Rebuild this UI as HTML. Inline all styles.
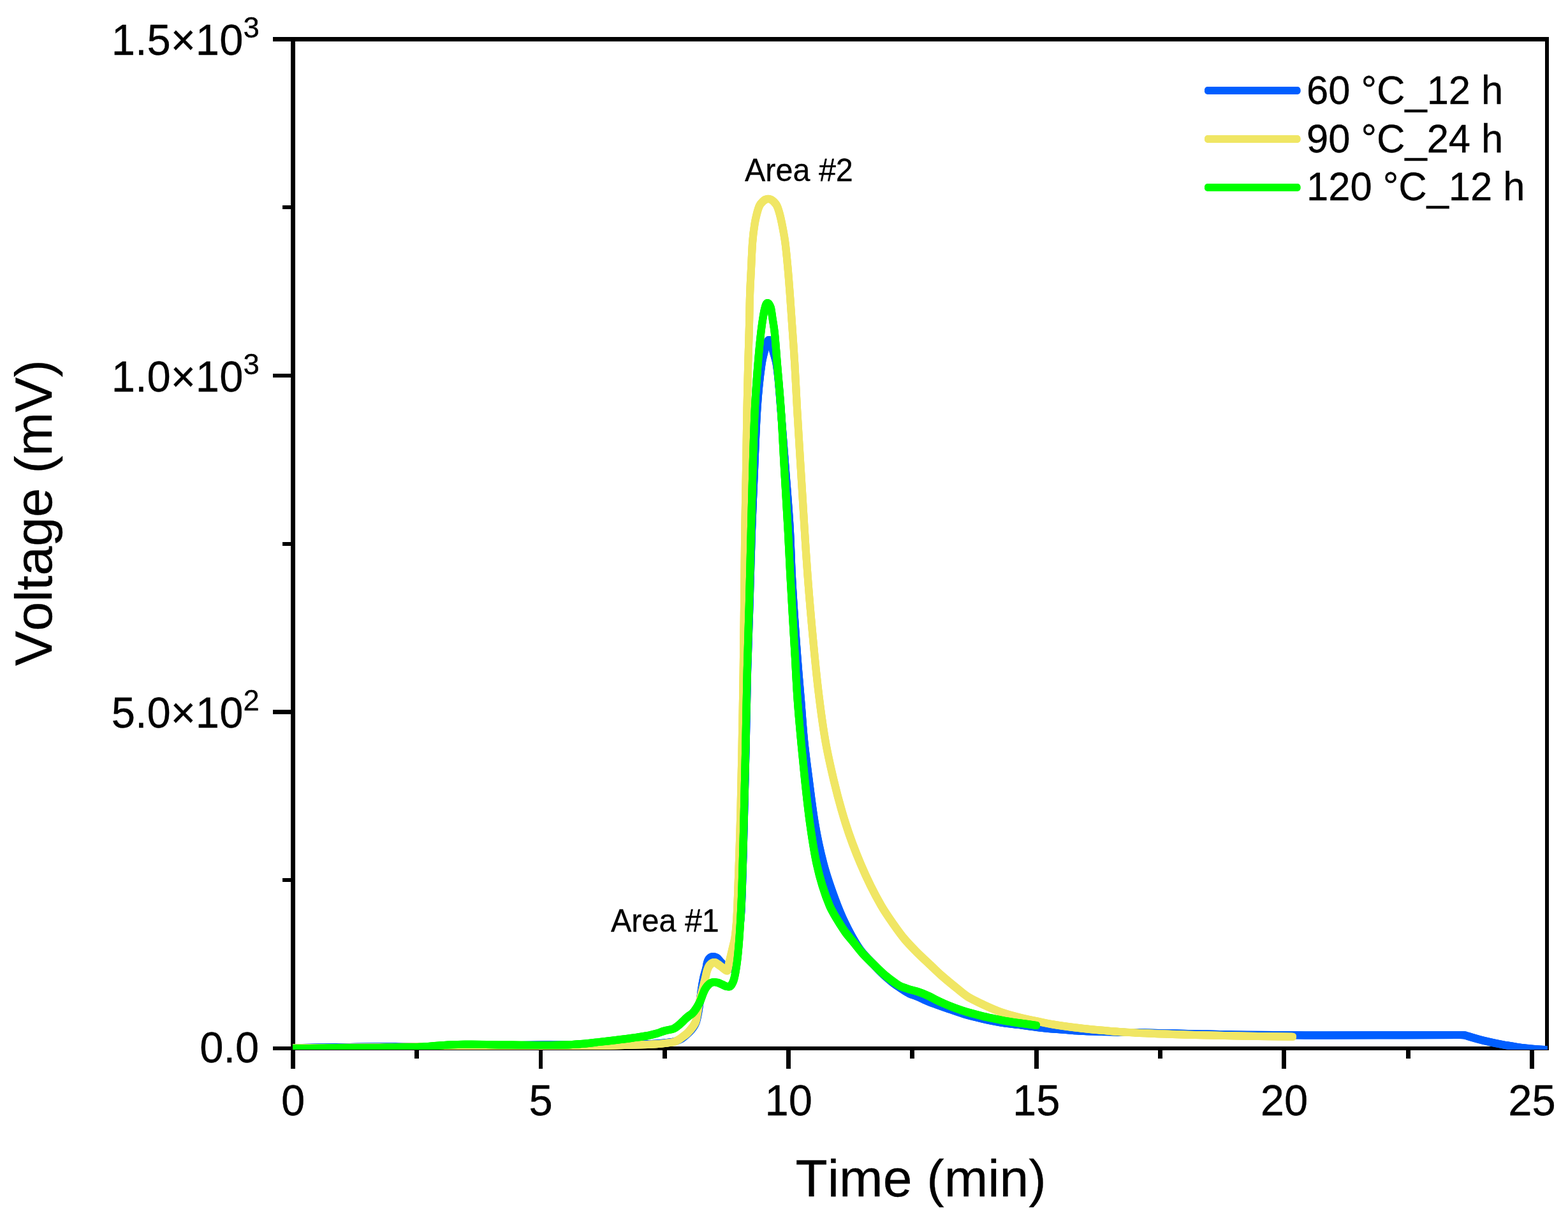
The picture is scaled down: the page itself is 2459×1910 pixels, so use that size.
<!DOCTYPE html>
<html lang="en"><head><meta charset="utf-8"><title>Chromatogram</title>
<style>
html,body{margin:0;padding:0;background:#fff;}
body{width:2459px;height:1910px;overflow:hidden;}
svg{display:block;font-family:'Liberation Sans', Arial, Helvetica, sans-serif;}
text{fill:#000;stroke:#000;stroke-width:0.3px;font-kerning:none;font-variant-ligatures:none;}
.tk{font-size:67px;}
.sup{font-size:45.5px;}
.ttl{font-size:82.3px;}
.lg{font-size:61.5px;}
.an{font-size:48.5px;}
</style></head><body>
<svg xmlns="http://www.w3.org/2000/svg" width="2459" height="1910" viewBox="0 0 2459 1910">
<rect width="2459" height="1910" fill="#fff"/>
<defs><clipPath id="plot"><rect x="459" y="62" width="1968" height="1584"/></clipPath>
<path id="cB" d="M459.5,1643.3C486.3,1642.8 513.2,1642.4 540.0,1642.0C566.7,1641.6 593.3,1641.0 620.0,1641.0C646.7,1641.0 673.3,1641.5 700.0,1641.5C726.7,1641.5 753.3,1640.5 780.0,1640.0C806.7,1639.5 833.3,1638.3 860.0,1638.3C890.0,1638.3 920.0,1638.5 950.0,1638.5C972.0,1638.5 994.0,1638.0 1016.0,1637.3C1024.5,1637.0 1033.0,1636.3 1041.4,1635.5C1046.3,1635.0 1051.3,1634.5 1056.0,1633.6C1059.6,1632.9 1063.3,1631.5 1066.5,1630.0C1070.3,1628.2 1073.7,1624.9 1077.0,1622.0C1079.5,1619.8 1081.9,1617.5 1084.0,1615.0C1085.6,1613.1 1087.3,1611.1 1088.5,1609.0C1089.8,1606.8 1091.0,1604.4 1091.8,1602.0C1093.0,1598.5 1093.8,1594.7 1094.5,1591.0C1095.5,1585.9 1096.3,1580.7 1097.0,1575.5C1098.0,1568.5 1098.7,1561.3 1099.7,1554.3C1100.7,1547.2 1101.9,1540.0 1103.4,1533.0C1104.5,1527.8 1106.5,1522.7 1107.6,1517.5C1108.1,1515.0 1108.3,1512.4 1109.0,1510.0C1109.7,1507.4 1111.2,1504.1 1113.0,1502.5C1114.2,1501.4 1116.5,1500.0 1118.3,1500.0C1120.0,1500.0 1122.0,1500.9 1123.5,1501.6C1126.1,1502.9 1128.0,1506.3 1130.2,1508.6C1132.3,1510.7 1134.3,1512.9 1136.4,1515.0C1137.6,1516.2 1138.7,1517.6 1140.0,1518.6C1140.8,1519.1 1141.7,1520.0 1142.5,1520.0C1144.5,1520.0 1146.9,1516.9 1148.0,1515.0C1150.6,1510.4 1151.8,1503.7 1153.0,1498.0C1155.0,1488.8 1156.2,1479.4 1157.6,1470.0C1159.2,1458.9 1161.1,1447.8 1161.9,1436.6C1163.0,1421.1 1163.5,1405.5 1164.0,1390.0C1165.4,1351.1 1166.2,1312.1 1167.2,1273.2C1168.1,1238.8 1168.9,1204.4 1169.7,1170.0C1170.6,1131.1 1171.1,1092.1 1172.1,1053.2C1173.0,1018.8 1174.4,984.4 1175.5,950.0C1176.7,911.1 1177.6,872.1 1179.0,833.2C1180.1,802.1 1181.5,771.1 1182.9,740.0C1184.3,707.2 1185.3,674.3 1187.4,641.5C1188.9,617.9 1191.1,594.1 1194.5,570.8C1195.5,563.8 1197.2,556.8 1199.0,550.0C1200.0,546.1 1201.4,542.3 1202.8,538.5C1203.3,537.2 1203.6,535.7 1204.3,534.6C1204.7,534.0 1205.4,533.0 1206.0,533.0C1206.6,533.0 1207.3,534.0 1207.7,534.6C1208.4,535.7 1208.8,537.2 1209.2,538.5C1210.4,542.3 1211.3,546.2 1212.3,550.0C1214.1,556.9 1216.6,563.8 1217.7,570.8C1221.3,594.0 1222.5,617.9 1224.5,641.5C1227.0,671.0 1229.2,700.5 1231.4,730.0C1234.0,764.4 1237.2,798.8 1239.0,833.2C1240.2,855.4 1240.7,877.7 1241.8,900.0C1244.0,943.4 1247.2,986.7 1250.4,1030.0C1252.0,1051.7 1254.0,1073.3 1255.8,1095.0C1257.6,1116.7 1258.9,1138.4 1261.0,1160.0C1263.1,1181.7 1266.1,1203.4 1268.9,1225.0C1271.7,1246.7 1274.2,1268.5 1277.8,1290.0C1281.4,1311.8 1286.0,1333.7 1291.6,1355.0C1297.3,1377.0 1305.2,1398.7 1313.3,1420.0C1315.8,1426.5 1318.5,1432.9 1321.3,1439.2C1324.0,1445.1 1326.9,1451.0 1329.9,1456.8C1333.1,1463.0 1336.4,1469.2 1340.0,1475.2C1343.1,1480.4 1346.3,1485.8 1350.0,1490.6C1355.6,1498.1 1362.5,1504.8 1369.0,1511.6C1375.0,1517.9 1381.0,1524.2 1387.4,1530.0C1391.5,1533.7 1395.7,1537.3 1400.0,1540.7C1403.7,1543.6 1407.6,1546.3 1411.5,1548.9C1416.5,1552.2 1421.4,1555.9 1426.8,1558.3C1430.5,1560.0 1434.5,1561.0 1438.3,1562.5C1444.5,1565.0 1450.4,1568.3 1456.6,1570.8C1465.9,1574.6 1475.4,1577.7 1484.9,1581.0C1494.3,1584.3 1503.7,1587.8 1513.2,1590.6C1522.5,1593.3 1532.0,1595.7 1541.5,1597.8C1550.9,1599.9 1560.3,1602.0 1569.8,1603.5C1579.2,1605.0 1588.7,1605.9 1598.1,1607.1C1607.5,1608.3 1616.9,1609.9 1626.4,1611.0C1635.8,1612.1 1645.3,1613.0 1654.7,1613.8C1664.1,1614.6 1673.6,1615.3 1683.0,1615.9C1688.7,1616.3 1694.3,1616.8 1700.0,1617.0C1723.8,1618.0 1747.7,1618.3 1771.6,1618.9C1802.1,1619.6 1832.7,1620.3 1863.2,1620.9C1893.7,1621.5 1924.2,1622.4 1954.7,1622.7C1985.2,1623.0 2015.8,1623.3 2046.3,1623.4C2057.5,1623.4 2068.8,1623.5 2080.0,1623.5C2120.0,1623.5 2160.0,1623.3 2200.0,1623.2C2230.0,1623.1 2260.0,1623.0 2290.0,1623.0C2292.0,1623.0 2294.0,1623.1 2296.0,1623.2C2297.8,1623.3 2299.5,1624.1 2301.2,1624.6C2304.0,1625.4 2306.7,1626.3 2309.5,1627.1C2315.0,1628.7 2320.5,1630.3 2326.0,1631.6C2336.9,1634.2 2347.9,1636.6 2359.0,1638.6C2369.9,1640.5 2381.0,1642.5 2392.0,1643.6C2403.6,1644.8 2415.3,1645.8 2427.0,1646.3"/>
<path id="cY" d="M459.5,1643.5C504.7,1643.2 549.8,1642.8 595.0,1642.3C616.3,1642.1 637.7,1641.5 659.0,1641.5C679.3,1641.5 699.7,1642.4 720.0,1642.5C760.0,1642.8 800.0,1643.0 840.0,1643.0C860.0,1643.0 880.0,1642.1 900.0,1641.5C914.9,1641.1 929.8,1640.5 944.7,1640.0C956.5,1639.6 968.2,1639.3 980.0,1639.0C992.1,1638.6 1004.1,1638.3 1016.2,1637.9C1020.8,1637.7 1025.4,1637.6 1030.0,1637.3C1033.9,1637.1 1037.9,1636.6 1041.8,1636.1C1046.7,1635.5 1051.9,1635.1 1056.5,1634.0C1059.6,1633.3 1062.6,1631.3 1065.4,1629.6C1067.4,1628.4 1069.1,1626.9 1071.0,1625.5C1073.1,1624.0 1075.3,1622.5 1077.2,1620.8C1079.3,1618.9 1081.2,1616.5 1083.1,1614.3C1084.6,1612.4 1086.2,1610.5 1087.5,1608.5C1088.8,1606.4 1090.3,1604.2 1091.1,1601.9C1092.2,1598.6 1092.7,1594.9 1093.4,1591.3C1094.3,1586.6 1094.8,1581.7 1095.7,1577.0C1096.2,1574.5 1096.7,1572.0 1097.3,1569.5C1098.6,1563.6 1100.2,1557.8 1101.6,1552.0C1103.2,1545.7 1104.8,1539.3 1106.3,1533.0C1107.2,1529.5 1107.7,1525.8 1108.8,1522.4C1109.8,1519.3 1111.1,1515.6 1113.0,1513.5C1114.7,1511.6 1118.1,1509.1 1120.7,1509.1C1122.3,1509.1 1124.0,1510.8 1125.5,1511.8C1127.1,1512.9 1128.6,1514.1 1130.2,1515.3C1132.0,1516.6 1133.7,1518.0 1135.5,1519.3C1136.5,1520.0 1137.4,1520.9 1138.4,1521.5C1139.0,1521.8 1140.0,1522.4 1140.3,1522.4C1141.1,1522.4 1141.4,1519.2 1141.8,1517.5C1142.5,1514.7 1143.0,1511.8 1143.6,1509.0C1144.4,1505.3 1145.3,1501.7 1146.2,1498.0C1147.3,1493.3 1148.4,1488.7 1149.5,1484.0C1150.6,1479.3 1152.0,1474.7 1152.6,1470.0C1154.1,1459.0 1155.0,1447.8 1155.6,1436.6C1156.5,1421.1 1156.9,1405.5 1157.5,1390.0C1158.9,1351.1 1160.4,1312.1 1161.4,1273.2C1162.3,1238.8 1162.9,1204.4 1163.6,1170.0C1164.4,1131.1 1165.1,1092.1 1165.7,1053.2C1166.2,1018.8 1166.6,984.4 1167.0,950.0C1167.4,911.1 1167.7,872.1 1168.2,833.2C1168.7,798.8 1169.5,764.4 1170.1,730.0C1170.6,700.5 1170.9,671.0 1171.5,641.5C1172.0,617.9 1172.6,594.4 1173.2,570.8C1173.7,550.5 1174.5,530.3 1175.0,510.0C1175.4,494.7 1175.5,479.3 1176.0,464.0C1176.4,449.8 1177.3,435.7 1178.0,421.5C1178.7,407.3 1179.1,393.1 1180.2,379.0C1180.9,369.5 1182.1,360.1 1183.6,350.7C1184.4,346.0 1185.4,341.2 1186.6,336.6C1187.8,331.8 1189.0,326.7 1191.1,322.5C1192.2,320.3 1194.0,318.2 1195.7,316.5C1197.0,315.2 1198.5,313.7 1200.2,313.0C1201.6,312.4 1203.2,311.8 1204.7,311.8C1206.2,311.8 1207.8,312.4 1209.2,313.0C1210.9,313.7 1212.4,315.2 1213.7,316.5C1215.4,318.2 1217.2,320.3 1218.3,322.5C1220.4,326.7 1221.7,331.8 1223.0,336.6C1224.3,341.2 1225.2,346.0 1226.2,350.7C1228.1,360.1 1229.9,369.5 1231.2,379.0C1233.1,393.1 1234.3,407.3 1235.6,421.5C1236.9,435.7 1237.9,449.8 1239.0,464.0C1240.1,479.3 1241.1,494.7 1242.2,510.0C1243.6,530.3 1245.1,550.5 1246.3,570.8C1247.7,594.4 1248.8,617.9 1250.1,641.5C1251.8,671.0 1253.7,700.5 1255.5,730.0C1257.6,764.4 1259.7,798.8 1261.9,833.2C1263.3,855.5 1264.7,877.7 1266.4,900.0C1269.6,943.4 1273.5,986.7 1277.7,1030.0C1279.8,1051.7 1282.1,1073.4 1284.8,1095.0C1287.5,1116.7 1290.4,1138.5 1294.1,1160.0C1297.8,1181.8 1302.8,1203.5 1307.9,1225.0C1313.1,1246.8 1319.0,1268.6 1325.7,1290.0C1332.6,1312.0 1340.8,1333.8 1349.8,1355.0C1359.2,1377.2 1369.9,1399.2 1381.9,1420.0C1387.4,1429.5 1393.7,1438.6 1400.0,1447.6C1405.9,1456.0 1411.8,1464.5 1418.4,1472.4C1424.1,1479.3 1430.5,1485.7 1436.8,1492.1C1444.7,1500.1 1453.1,1507.7 1461.3,1515.5C1466.4,1520.3 1471.4,1525.3 1476.7,1529.9C1484.2,1536.5 1491.9,1542.8 1499.7,1549.0C1505.5,1553.7 1511.1,1558.7 1517.3,1562.7C1521.6,1565.4 1526.2,1567.7 1530.8,1570.0C1534.3,1571.8 1537.9,1573.6 1541.5,1575.2C1550.8,1579.5 1560.2,1583.9 1569.8,1587.2C1579.0,1590.4 1588.6,1592.9 1598.1,1595.3C1607.5,1597.6 1616.9,1599.6 1626.4,1601.5C1635.8,1603.4 1645.2,1605.4 1654.7,1607.0C1664.1,1608.5 1673.6,1609.8 1683.0,1611.0C1688.7,1611.7 1694.3,1612.4 1700.0,1613.0C1723.8,1615.4 1747.7,1617.8 1771.6,1619.1C1802.1,1620.8 1832.7,1621.8 1863.2,1622.7C1893.7,1623.6 1924.2,1624.2 1954.7,1624.7C1978.8,1625.1 2002.9,1625.5 2027.0,1625.8"/>
<path id="cG" d="M459.5,1644.2C483.0,1644.0 506.5,1643.8 530.0,1643.6C551.7,1643.4 573.3,1643.2 595.0,1642.9C616.3,1642.6 637.7,1642.4 659.0,1641.7C670.0,1641.3 681.0,1639.8 692.0,1639.2C700.7,1638.7 709.3,1638.1 718.0,1638.0C725.3,1637.9 732.7,1637.8 740.0,1637.8C756.7,1637.8 773.3,1638.2 790.0,1638.4C806.7,1638.6 823.3,1638.9 840.0,1638.9C856.7,1638.9 873.4,1638.7 890.0,1638.4C898.3,1638.2 906.7,1637.5 915.0,1636.8C923.6,1636.1 932.1,1634.9 940.7,1633.9C949.1,1632.9 957.6,1632.0 966.0,1631.0C974.4,1630.0 982.7,1629.0 991.1,1627.8C999.4,1626.6 1007.8,1625.6 1016.0,1624.0C1020.7,1623.1 1025.4,1621.9 1030.0,1620.6C1034.0,1619.5 1037.8,1617.7 1041.8,1616.6C1046.6,1615.2 1052.0,1614.8 1056.5,1613.1C1058.5,1612.3 1060.3,1610.8 1062.0,1609.5C1064.2,1607.9 1066.3,1606.0 1068.3,1604.1C1070.3,1602.3 1072.1,1600.4 1074.0,1598.6C1076.0,1596.8 1078.0,1595.0 1080.1,1593.3C1082.0,1591.8 1084.3,1590.6 1086.0,1588.9C1088.0,1587.0 1089.7,1584.5 1091.3,1582.1C1092.6,1580.1 1093.8,1578.1 1095.0,1576.0C1096.2,1573.9 1097.4,1571.7 1098.4,1569.5C1099.6,1566.8 1100.4,1563.8 1101.5,1561.0C1102.6,1558.1 1103.6,1555.2 1105.0,1552.5C1106.2,1550.1 1107.8,1547.8 1109.5,1545.8C1110.9,1544.2 1112.6,1542.4 1114.5,1541.5C1116.0,1540.8 1117.9,1540.0 1119.6,1540.0C1121.3,1540.0 1123.2,1540.4 1124.9,1540.7C1127.5,1541.2 1129.9,1542.7 1132.3,1543.7C1134.8,1544.8 1137.1,1546.4 1139.7,1547.0C1140.8,1547.2 1142.1,1547.5 1143.0,1547.5C1145.7,1547.5 1148.3,1542.8 1149.5,1540.0C1151.8,1534.7 1152.9,1527.7 1154.0,1521.5C1155.6,1512.2 1156.7,1502.7 1157.6,1493.2C1159.4,1474.4 1160.6,1455.5 1161.6,1436.6C1162.4,1421.1 1163.1,1405.5 1163.6,1390.0C1164.9,1351.1 1165.8,1312.1 1166.8,1273.2C1167.7,1238.8 1168.5,1204.4 1169.3,1170.0C1170.2,1131.1 1170.7,1092.1 1171.7,1053.2C1172.5,1018.8 1173.8,984.4 1174.8,950.0C1175.9,911.1 1176.8,872.1 1177.8,833.2C1178.7,798.8 1179.5,764.4 1180.6,730.0C1181.5,700.5 1182.4,671.0 1183.8,641.5C1184.9,617.9 1186.7,594.3 1188.6,570.8C1190.0,553.8 1191.5,536.9 1193.5,520.0C1194.4,512.7 1195.4,505.3 1196.6,498.0C1197.1,495.0 1197.6,492.0 1198.2,489.0C1198.6,486.9 1199.1,484.8 1199.7,482.7C1200.0,481.5 1200.4,480.2 1200.8,479.0C1201.1,478.1 1201.5,477.1 1202.0,476.4C1202.4,475.9 1203.1,475.0 1203.7,475.0C1204.3,475.0 1205.0,475.9 1205.5,476.4C1206.2,477.1 1206.7,478.1 1207.2,479.0C1207.8,480.2 1208.4,481.4 1208.8,482.7C1209.4,484.7 1209.7,486.9 1210.0,489.0C1210.5,492.0 1210.9,495.0 1211.3,498.0C1212.4,505.3 1213.8,512.6 1214.6,520.0C1216.5,536.9 1217.5,553.9 1218.9,570.8C1220.9,594.4 1223.1,617.9 1224.7,641.5C1226.7,671.0 1228.0,700.5 1229.7,730.0C1231.7,764.4 1233.9,798.8 1235.8,833.2C1237.0,855.5 1238.0,877.7 1239.2,900.0C1241.5,943.3 1244.3,986.7 1246.8,1030.0C1248.0,1051.7 1249.0,1073.4 1250.5,1095.0C1252.0,1116.7 1254.0,1138.3 1256.0,1160.0C1258.0,1181.7 1260.1,1203.4 1262.4,1225.0C1264.7,1246.7 1267.0,1268.4 1270.0,1290.0C1273.0,1311.7 1276.2,1333.7 1280.8,1355.0C1285.6,1377.0 1292.3,1399.3 1300.9,1420.0C1302.8,1424.7 1305.5,1429.2 1308.0,1433.7C1310.8,1438.6 1313.8,1443.4 1316.8,1448.2C1319.8,1452.9 1322.7,1457.6 1326.0,1462.1C1329.8,1467.3 1334.2,1472.2 1338.3,1477.3C1343.4,1483.5 1348.2,1490.1 1353.6,1496.0C1358.5,1501.4 1363.8,1506.3 1369.0,1511.4C1375.1,1517.3 1381.0,1523.5 1387.4,1528.9C1392.3,1533.0 1397.4,1536.9 1402.7,1540.6C1405.6,1542.6 1408.4,1544.8 1411.5,1546.3C1413.6,1547.3 1415.8,1547.9 1418.0,1548.7C1420.9,1549.7 1423.8,1550.8 1426.8,1551.7C1430.6,1552.8 1434.5,1553.6 1438.3,1554.8C1444.5,1556.8 1450.7,1559.3 1456.6,1562.0C1460.3,1563.7 1463.8,1565.9 1467.5,1567.7C1471.9,1569.9 1476.4,1572.0 1481.0,1574.0C1485.6,1576.0 1490.2,1577.8 1494.9,1579.6C1499.4,1581.3 1503.9,1582.9 1508.5,1584.4C1513.1,1585.9 1517.7,1587.3 1522.4,1588.6C1528.7,1590.4 1535.1,1592.1 1541.5,1593.6C1547.6,1595.1 1553.8,1596.3 1560.0,1597.6C1563.3,1598.3 1566.5,1599.0 1569.8,1599.6C1579.2,1601.4 1588.6,1602.9 1598.1,1604.3C1607.0,1605.6 1616.0,1606.8 1625.0,1607.9"/>
<path id="lg" d="M1895,0H2033.5"/>
</defs>

<g fill="#000" shape-rendering="crispEdges">
<rect x="456" y="58" width="1973" height="7"/>
<rect x="456" y="1641" width="1973" height="6"/>
<rect x="456" y="58" width="7" height="1589"/>
<rect x="2423" y="58" width="6" height="1589"/>
<rect x="428" y="58" width="28" height="7"/>
<rect x="428" y="586" width="28" height="6"/>
<rect x="428" y="1113" width="28" height="7"/>
<rect x="428" y="1641" width="28" height="6"/>
<rect x="443" y="322" width="13" height="6"/>
<rect x="443" y="850" width="13" height="6"/>
<rect x="443" y="1377" width="13" height="6"/>
<rect x="456" y="1647" width="7" height="29"/>
<rect x="845" y="1647" width="6" height="29"/>
<rect x="1233" y="1647" width="7" height="29"/>
<rect x="1622" y="1647" width="7" height="29"/>
<rect x="2010" y="1647" width="7" height="29"/>
<rect x="2399" y="1647" width="7" height="29"/>
<rect x="650" y="1647" width="7" height="13"/>
<rect x="1039" y="1647" width="7" height="13"/>
<rect x="1427" y="1647" width="7" height="13"/>
<rect x="1816" y="1647" width="7" height="13"/>
<rect x="2205" y="1647" width="7" height="13"/>
</g>
<g clip-path="url(#plot)" fill="none" stroke-width="9.6" stroke-linejoin="round" stroke-linecap="round">
<g stroke="#005eff"><use href="#cB" x="-1.2" y="-1.2"/><use href="#cB" x="-1.2" y="1.2"/><use href="#cB" x="1.2" y="-1.2"/><use href="#cB" x="1.2" y="1.2"/><use href="#cB" y="0" stroke-width="12"/></g>
<g stroke="#f0e664"><use href="#cY" x="-1.2" y="-1.2"/><use href="#cY" x="-1.2" y="1.2"/><use href="#cY" x="1.2" y="-1.2"/><use href="#cY" x="1.2" y="1.2"/><use href="#cY" y="0" stroke-width="12"/></g>
<g stroke="#00ff00"><use href="#cG" x="-1.2" y="-1.2"/><use href="#cG" x="-1.2" y="1.2"/><use href="#cG" x="1.2" y="-1.2"/><use href="#cG" x="1.2" y="1.2"/><use href="#cG" y="0" stroke-width="12"/></g>
</g>
<g fill="none" stroke-width="9.6" stroke-linecap="round">
<g stroke="#005eff"><use href="#lg" x="-1.2" y="140.8"/><use href="#lg" x="-1.2" y="143.2"/><use href="#lg" x="1.2" y="140.8"/><use href="#lg" x="1.2" y="143.2"/><use href="#lg" y="142" stroke-width="12"/></g>
<g stroke="#f0e664"><use href="#lg" x="-1.2" y="216.8"/><use href="#lg" x="-1.2" y="219.2"/><use href="#lg" x="1.2" y="216.8"/><use href="#lg" x="1.2" y="219.2"/><use href="#lg" y="218" stroke-width="12"/></g>
<g stroke="#00ff00"><use href="#lg" x="-1.2" y="292.8"/><use href="#lg" x="-1.2" y="295.2"/><use href="#lg" x="1.2" y="292.8"/><use href="#lg" x="1.2" y="295.2"/><use href="#lg" y="294" stroke-width="12"/></g>
</g>
<text class="lg" transform="translate(2049,162.7) scale(1,1.03)">60 °C_12 h</text>
<text class="lg" transform="translate(2049,238.5) scale(1,1.03)">90 °C_24 h</text>
<text class="lg" transform="translate(2049,314.3) scale(1,1.03)">120 °C_12 h</text>
<text class="tk" transform="translate(381.4,85.9) scale(1,1.035)" text-anchor="end">1.5×10</text>
<text class="sup" transform="translate(381.6,58.900000000000006) scale(1,1.035)">3</text>
<text class="tk" transform="translate(381.4,614.0) scale(1,1.035)" text-anchor="end">1.0×10</text>
<text class="sup" transform="translate(381.6,587.0) scale(1,1.035)">3</text>
<text class="tk" transform="translate(381.4,1141.2) scale(1,1.035)" text-anchor="end">5.0×10</text>
<text class="sup" transform="translate(381.6,1114.2) scale(1,1.035)">2</text>
<text class="tk" transform="translate(406.3,1665.9) scale(1,1.035)" text-anchor="end">0.0</text>
<text class="tk" transform="translate(459.5,1749.3) scale(1,1.035)" text-anchor="middle">0</text>
<text class="tk" transform="translate(848.1,1749.3) scale(1,1.035)" text-anchor="middle">5</text>
<text class="tk" transform="translate(1236.7,1749.3) scale(1,1.035)" text-anchor="middle">10</text>
<text class="tk" transform="translate(1625.3,1749.3) scale(1,1.035)" text-anchor="middle">15</text>
<text class="tk" transform="translate(2013.9,1749.3) scale(1,1.035)" text-anchor="middle">20</text>
<text class="tk" transform="translate(2402.5,1749.3) scale(1,1.035)" text-anchor="middle">25</text>
<text class="ttl" transform="translate(1444.1,1876.0)" text-anchor="middle">Time (min)</text>
<text class="ttl" transform="translate(81,804.2) rotate(-90)" text-anchor="middle">Voltage (mV)</text>
<text class="an" transform="translate(1168,283.8) scale(1,1.035)">Area #2</text>
<text class="an" transform="translate(958,1460.7) scale(1,1.035)">Area #1</text>
</svg></body></html>
